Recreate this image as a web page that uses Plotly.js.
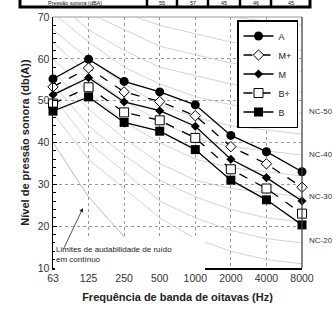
<!DOCTYPE html>
<html>
<head>
<meta charset="utf-8">
<script src="https://cdn.plot.ly/plotly-3.0.1.min.js"></script>
<style>html,body{margin:0;padding:0;background:#fff;}#chart{width:332px;height:313px;}</style>
</head>
<body>
<div id="chart"></div>
<script>
const freqLabels = ['63','125','250','500','1000','2000','4000','8000'];
const seriesA     = [55.2, 59.9, 54.6, 52.1, 49.0, 41.7, 37.8, 33.0];
const seriesMplus = [53.3, 57.8, 52.1, 49.8, 46.4, 39.0, 34.9, 29.3];
const seriesM     = [51.4, 55.5, 49.7, 47.6, 43.9, 36.0, 31.6, 26.0];
const seriesBplus = [49.3, 53.2, 47.2, 45.3, 41.1, 33.6, 29.0, 23.0];
const seriesB     = [47.5, 50.9, 44.8, 42.7, 38.3, 31.0, 26.3, 20.3];

const ncNames = ['NC-15','NC-20','NC-25','NC-30','NC-35','NC-40','NC-45','NC-50','NC-55','NC-60','NC-65','NC-70'];
const ncValues = [
  [47,36,29,22,17,14,12,11],
  [51,40,33,26,22,19,17,16],
  [54,44,37,31,27,24,22,21],
  [57,48,41,35,31,29,28,27],
  [60,52,45,40,36,34,33,32],
  [64,56,50,45,41,39,38,37],
  [67,60,54,49,46,44,43,42],
  [71,64,58,54,51,49,48,47],
  [74,67,62,58,56,54,53,52],
  [77,71,67,63,61,59,58,57],
  [80,75,71,68,66,64,63,62],
  [83,79,75,72,71,70,69,68]
];
const ncLabelNames = ['NC-50','NC-40','NC-30','NC-20'];
const ncLabelLevels = [47.4, 37.1, 27.2, 16.5];

const thresholdFreqs = ['63','125','250','500'];
const thresholdValues = [40, 27, 17.5, 11];

const tableHeader = 'Pressão sonora (dBA)';
const tableValues = ['55','57','45','46','45'];

const traces = [];
ncValues.forEach((v, i) => {
  traces.push({x: freqLabels, y: v, type: 'scatter', mode: 'lines', name: ncNames[i],
    line: {color: '#c8c8c8', width: 0.8}, showlegend: false, hoverinfo: 'skip'});
});
traces.push({x: thresholdFreqs, y: thresholdValues, type: 'scatter', mode: 'lines', name: 'limite',
  line: {color: '#aaaaaa', width: 0.8}, showlegend: false, hoverinfo: 'skip'});

const seriesDefs = [
  {name: 'A',  y: seriesA,     dash: 'solid', marker: {symbol: 'circle', size: 9, color: 'black'}},
  {name: 'M+', y: seriesMplus, dash: 'dash',  marker: {symbol: 'diamond', size: 8, color: 'white', line: {color: 'black', width: 1}}},
  {name: 'M',  y: seriesM,     dash: 'solid', marker: {symbol: 'diamond', size: 7, color: 'black'}},
  {name: 'B+', y: seriesBplus, dash: 'dash',  marker: {symbol: 'square', size: 9, color: 'white', line: {color: 'black', width: 1}}},
  {name: 'B',  y: seriesB,     dash: 'solid', marker: {symbol: 'square', size: 9, color: 'black'}}
];
seriesDefs.forEach(s => {
  traces.push({x: freqLabels, y: s.y, type: 'scatter', mode: 'lines+markers', name: s.name,
    line: {color: 'black', width: 1.3, dash: s.dash}, marker: s.marker, cliponaxis: false});
});

const L = 53, R = 302, T = 17, B = 268;
const px = p => (p - L) / (R - L);
const py = p => (B - p) / (B - T);

const annotations = [];
ncLabelNames.forEach((n, i) => {
  annotations.push({xref: 'paper', yref: 'y', x: px(307), y: ncLabelLevels[i], text: n,
    showarrow: false, xanchor: 'left', yanchor: 'middle', font: {size: 8, color: '#333'}});
});
annotations.push({xref: 'paper', yref: 'paper', x: px(55), y: py(244), xanchor: 'left', yanchor: 'top',
  align: 'left', borderpad: 0,
  text: 'Limites de audabilidade de ruído<br>em contínuo', showarrow: false,
  font: {size: 8, color: '#222'}});
annotations.push({xref: 'paper', yref: 'paper', x: px(83), y: py(208), text: '', showarrow: true,
  ax: -20, ay: 42, arrowhead: 2, arrowsize: 1, arrowwidth: 0.8, arrowcolor: '#222'});
annotations.push({xref: 'paper', yref: 'paper', x: px(75), y: py(3), text: tableHeader, showarrow: false,
  xanchor: 'center', yanchor: 'middle', borderpad: 0, font: {size: 5.5, color: '#111'}});
const cellCenters = [162, 192.5, 224, 255.5, 290.5];
tableValues.forEach((t, i) => {
  annotations.push({xref: 'paper', yref: 'paper', x: px(cellCenters[i]), y: py(3), text: t, showarrow: false,
    xanchor: 'center', yanchor: 'middle', borderpad: 0, font: {size: 5.5, color: '#111'}});
});

const shapes = [
  {type: 'rect', xref: 'paper', yref: 'paper', x0: px(20), x1: px(310), y0: py(7), y1: py(-6),
    line: {color: 'black', width: 3}, fillcolor: 'rgba(0,0,0,0)'},
  {type: 'rect', xref: 'paper', yref: 'paper', x0: px(55), x1: px(205), y0: py(271), y1: py(237),
    line: {width: 0}, fillcolor: 'white', layer: 'above'}
];
[147, 177, 208, 240, 271].forEach(d => {
  shapes.push({type: 'line', xref: 'paper', yref: 'paper', x0: px(d), x1: px(d), y0: py(7), y1: py(-6),
    line: {color: 'black', width: 2.5}});
});
shapes.push({type: 'line', xref: 'paper', yref: 'paper', x0: 0, x1: 1, y0: 1, y1: 1, line: {color: '#999', width: 1}, layer: 'below'});
shapes.push({type: 'line', xref: 'paper', yref: 'paper', x0: 1, x1: 1, y0: 0, y1: 1, line: {color: '#444', width: 1.3}});

const layout = {
  width: 332, height: 313,
  margin: {l: L, r: 332 - R, t: T, b: 313 - B, autoexpand: false},
  paper_bgcolor: 'white', plot_bgcolor: 'white',
  font: {family: 'Liberation Sans, Arial, sans-serif', color: '#333'},
  showlegend: true,
  legend: {x: px(298), y: py(20), xanchor: 'right', yanchor: 'top', bgcolor: 'white',
    bordercolor: 'black', borderwidth: 1.5, font: {size: 9, color: '#222'}, itemwidth: 30, tracegroupgap: 0},
  xaxis: {type: 'category', categoryorder: 'array', categoryarray: freqLabels, range: [0, 7],
    automargin: false,
    showgrid: true, gridcolor: '#999', griddash: 'dot', gridwidth: 1,
    showline: true, linecolor: 'black', linewidth: 1.5, ticks: '', zeroline: false,
    tickfont: {size: 10.5, color: '#333'},
    title: {text: '<b>Frequência de banda de oitavas (Hz)</b>', font: {size: 11, color: '#222'}, standoff: 10}},
  yaxis: {range: [10, 70], dtick: 10, tick0: 10, automargin: false,
    showgrid: true, gridcolor: '#999', griddash: 'dot', gridwidth: 1,
    showline: true, linecolor: 'black', linewidth: 1.5, ticks: 'inside', ticklen: 4, tickcolor: 'black',
    zeroline: false, tickfont: {size: 10.5, color: '#333'},
    minor: {dtick: 2, ticks: 'inside', ticklen: 3, tickcolor: 'black', showgrid: false},
    title: {text: '<b>Nível de pressão sonora (db(A))</b>', font: {size: 11, color: '#222'}, standoff: 6}},
  annotations: annotations,
  shapes: shapes
};

Plotly.newPlot('chart', traces, layout, {displayModeBar: false, staticPlot: true});
</script>
</body>
</html>
